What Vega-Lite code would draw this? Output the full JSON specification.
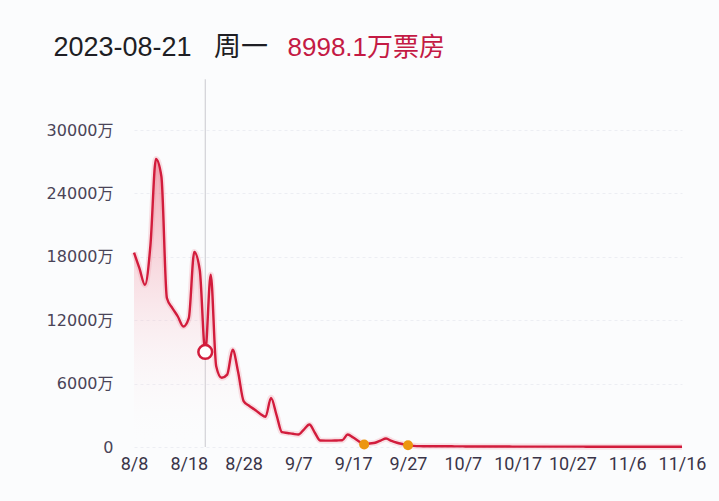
{
  "$schema": "https://vega.github.io/schema/vega-lite/v6.json",
  "width": 548,
  "height": 317,
  "autosize": {"type": "none"},
  "padding": {"left": 134, "top": 130, "right": 37, "bottom": 54},
  "background": "#fbfcfd",
  "datasets": {
    "box": [
      {"date": "2023-08-08", "value": 18400},
      {"date": "2023-08-09", "value": 16900},
      {"date": "2023-08-10", "value": 15350},
      {"date": "2023-08-11", "value": 19100},
      {"date": "2023-08-12", "value": 27250},
      {"date": "2023-08-13", "value": 25600},
      {"date": "2023-08-14", "value": 14100},
      {"date": "2023-08-15", "value": 13150},
      {"date": "2023-08-16", "value": 12350},
      {"date": "2023-08-17", "value": 11400},
      {"date": "2023-08-18", "value": 12200},
      {"date": "2023-08-19", "value": 18450},
      {"date": "2023-08-20", "value": 16750},
      {"date": "2023-08-21", "value": 8998.1},
      {"date": "2023-08-22", "value": 16300},
      {"date": "2023-08-23", "value": 7650},
      {"date": "2023-08-24", "value": 6550},
      {"date": "2023-08-25", "value": 6850},
      {"date": "2023-08-26", "value": 9200},
      {"date": "2023-08-27", "value": 7100},
      {"date": "2023-08-28", "value": 4350},
      {"date": "2023-08-29", "value": 3900},
      {"date": "2023-08-30", "value": 3550},
      {"date": "2023-08-31", "value": 3150},
      {"date": "2023-09-01", "value": 2850},
      {"date": "2023-09-02", "value": 4650},
      {"date": "2023-09-03", "value": 3050},
      {"date": "2023-09-04", "value": 1400},
      {"date": "2023-09-05", "value": 1330},
      {"date": "2023-09-06", "value": 1250},
      {"date": "2023-09-07", "value": 1180},
      {"date": "2023-09-08", "value": 1650},
      {"date": "2023-09-09", "value": 2130},
      {"date": "2023-09-10", "value": 1350},
      {"date": "2023-09-11", "value": 610},
      {"date": "2023-09-12", "value": 600},
      {"date": "2023-09-13", "value": 600},
      {"date": "2023-09-14", "value": 620},
      {"date": "2023-09-15", "value": 640},
      {"date": "2023-09-16", "value": 1180},
      {"date": "2023-09-17", "value": 900},
      {"date": "2023-09-18", "value": 550},
      {"date": "2023-09-19", "value": 240},
      {"date": "2023-09-20", "value": 330},
      {"date": "2023-09-21", "value": 400},
      {"date": "2023-09-22", "value": 610},
      {"date": "2023-09-23", "value": 800},
      {"date": "2023-09-24", "value": 570},
      {"date": "2023-09-25", "value": 400},
      {"date": "2023-09-26", "value": 280},
      {"date": "2023-09-27", "value": 170},
      {"date": "2023-09-28", "value": 110},
      {"date": "2023-09-29", "value": 80},
      {"date": "2023-09-30", "value": 75},
      {"date": "2023-10-01", "value": 72},
      {"date": "2023-10-02", "value": 70},
      {"date": "2023-10-03", "value": 68},
      {"date": "2023-10-04", "value": 66},
      {"date": "2023-10-05", "value": 64},
      {"date": "2023-10-06", "value": 60},
      {"date": "2023-10-07", "value": 55},
      {"date": "2023-10-08", "value": 50},
      {"date": "2023-10-09", "value": 48},
      {"date": "2023-10-10", "value": 46},
      {"date": "2023-10-11", "value": 45},
      {"date": "2023-10-12", "value": 44},
      {"date": "2023-10-13", "value": 45},
      {"date": "2023-10-14", "value": 47},
      {"date": "2023-10-15", "value": 44},
      {"date": "2023-10-16", "value": 40},
      {"date": "2023-10-17", "value": 39},
      {"date": "2023-10-18", "value": 38},
      {"date": "2023-10-19", "value": 37},
      {"date": "2023-10-20", "value": 38},
      {"date": "2023-10-21", "value": 40},
      {"date": "2023-10-22", "value": 38},
      {"date": "2023-10-23", "value": 34},
      {"date": "2023-10-24", "value": 33},
      {"date": "2023-10-25", "value": 32},
      {"date": "2023-10-26", "value": 31},
      {"date": "2023-10-27", "value": 32},
      {"date": "2023-10-28", "value": 34},
      {"date": "2023-10-29", "value": 32},
      {"date": "2023-10-30", "value": 29},
      {"date": "2023-10-31", "value": 28},
      {"date": "2023-11-01", "value": 27},
      {"date": "2023-11-02", "value": 27},
      {"date": "2023-11-03", "value": 28},
      {"date": "2023-11-04", "value": 30},
      {"date": "2023-11-05", "value": 28},
      {"date": "2023-11-06", "value": 25},
      {"date": "2023-11-07", "value": 24},
      {"date": "2023-11-08", "value": 24},
      {"date": "2023-11-09", "value": 23},
      {"date": "2023-11-10", "value": 24},
      {"date": "2023-11-11", "value": 26},
      {"date": "2023-11-12", "value": 24},
      {"date": "2023-11-13", "value": 21},
      {"date": "2023-11-14", "value": 20},
      {"date": "2023-11-15", "value": 20},
      {"date": "2023-11-16", "value": 20}
    ],
    "sel": [{"date": "2023-08-21", "value": 8998.1}],
    "ev": [
      {"date": "2023-09-19", "value": 240},
      {"date": "2023-09-27", "value": 170}
    ]
  },
  "encoding": {
    "x": {
      "field": "date",
      "type": "temporal",
      "scale": {
        "type": "utc",
        "domain": [
          {"year": 2023, "month": 8, "date": 8, "utc": true},
          {"year": 2023, "month": 11, "date": 16, "utc": true}
        ]
      },
      "axis": {
        "title": "2023-08-21\u00a0\u00a0\u00a0周一",
        "titleX": -81,
        "titleY": -400,
        "titleAlign": "left",
        "titleBaseline": "middle",
        "titleAngle": 0,
        "titleFont": "Liberation Sans, Noto Sans CJK SC",
        "titleFontSize": 27,
        "titleFontWeight": "normal",
        "titleColor": "#1e1e24",
        "labelExpr": "utcFormat(datum.value, '%-m/%-d')",
        "values": [
          {"year": 2023, "month": 8, "date": 8, "utc": true},
          {"year": 2023, "month": 8, "date": 18, "utc": true},
          {"year": 2023, "month": 8, "date": 28, "utc": true},
          {"year": 2023, "month": 9, "date": 7, "utc": true},
          {"year": 2023, "month": 9, "date": 17, "utc": true},
          {"year": 2023, "month": 9, "date": 27, "utc": true},
          {"year": 2023, "month": 10, "date": 7, "utc": true},
          {"year": 2023, "month": 10, "date": 17, "utc": true},
          {"year": 2023, "month": 10, "date": 27, "utc": true},
          {"year": 2023, "month": 11, "date": 6, "utc": true},
          {"year": 2023, "month": 11, "date": 16, "utc": true}
        ],
        "grid": false,
        "domain": false,
        "ticks": false,
        "labelPadding": 8,
        "labelFont": "Roboto",
        "labelFontSize": 18,
        "labelColor": "#3a3448",
        "labelOverlap": false,
        "labelFlush": false
      }
    },
    "y": {
      "field": "value",
      "type": "quantitative",
      "scale": {"domain": [0, 30000], "nice": false, "zero": true},
      "axis": {
        "title": "8998.1万票房",
        "titleX": 153,
        "titleY": -83,
        "titleAlign": "left",
        "titleBaseline": "middle",
        "titleAngle": 0,
        "titleFont": "Liberation Sans, Noto Sans CJK SC",
        "titleFontSize": 26,
        "titleFontWeight": "normal",
        "titleColor": "#c41a44",
        "values": [0, 6000, 12000, 18000, 24000, 30000],
        "labelExpr": "datum.value === 0 ? '0' : datum.value + '万'",
        "labelFont": "DejaVu Sans, Noto Sans CJK SC",
        "labelFontSize": 16,
        "labelColor": "#4a4458",
        "labelPadding": 21,
        "domain": false,
        "ticks": false,
        "grid": true,
        "gridColor": "#eceef3",
        "gridDash": [3, 3],
        "gridWidth": 1
      }
    }
  },
  "layer": [
    {
      "data": {"name": "sel"},
      "mark": {"type": "rule", "color": "#c9c9cf", "strokeWidth": 1},
      "encoding": {
        "y": {"datum": 0},
        "y2": {"datum": 34800}
      }
    },
    {
      "data": {"name": "box"},
      "mark": {
        "type": "area",
        "interpolate": "monotone",
        "color": {
          "gradient": "linear",
          "x1": 0, "y1": 0, "x2": 0, "y2": 1,
          "stops": [
            {"offset": 0, "color": "rgba(232,80,104,0.5)"},
            {"offset": 1, "color": "rgba(255,255,255,0)"}
          ]
        }
      }
    },
    {
      "data": {"name": "box"},
      "mark": {"type": "line", "interpolate": "monotone", "color": "#f08a9c", "strokeWidth": 6, "opacity": 0.25}
    },
    {
      "data": {"name": "box"},
      "mark": {"type": "line", "interpolate": "monotone", "color": "#d21c3c", "strokeWidth": 2.4}
    },
    {
      "data": {"name": "ev"},
      "mark": {"type": "circle", "color": "#ec9610", "size": 100, "opacity": 1}
    },
    {
      "data": {"name": "sel"},
      "mark": {"type": "point", "shape": "circle", "filled": true, "fill": "#ffffff", "stroke": "#d21c3c", "strokeWidth": 2.5, "size": 190, "opacity": 1}
    }
  ],
  "config": {
    "view": {"stroke": null}
  }
}
